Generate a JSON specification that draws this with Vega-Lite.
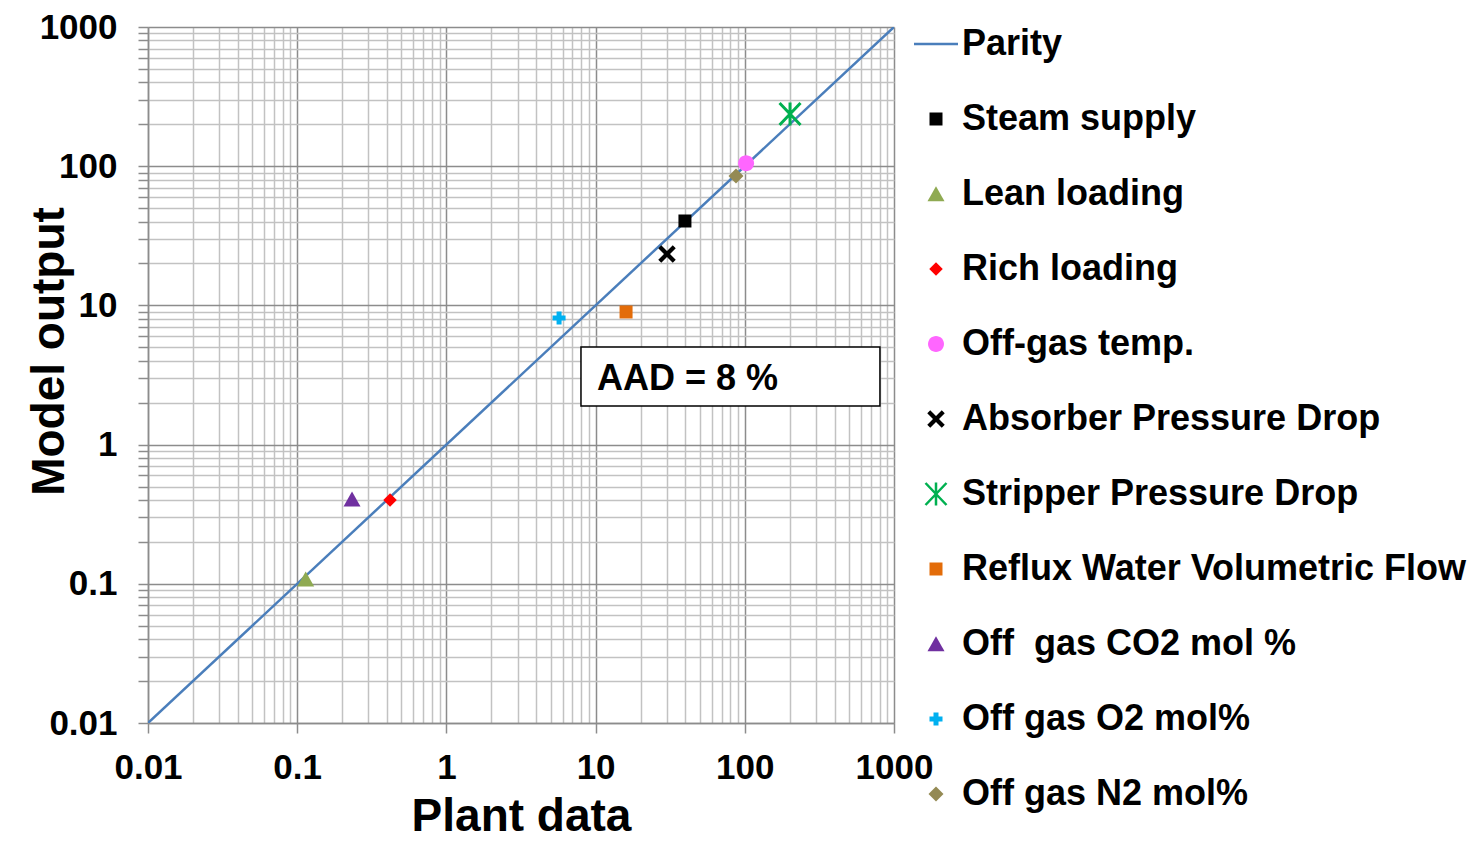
{
  "$schema": "https://vega.github.io/schema/vega-lite/v6.json",
  "autosize": "none",
  "width": 746,
  "height": 696,
  "padding": {"left": 148, "top": 27, "right": 584, "bottom": 129},
  "background": "white",
  "config": {
    "view": {"stroke": null},
    "legend": {
      "orient": "none",
      "legendX": 770,
      "legendY": -1,
      "padding": 0,
      "labelFont": "Liberation Sans",
      "labelFontSize": 36,
      "labelFontWeight": "bold",
      "labelColor": "black",
      "labelLimit": 700,
      "rowPadding": 39,
      "labelOffset": 8,
      "symbolSize": 100,
      "symbolStrokeWidth": 2.5
    }
  },
  "datasets": {
    "parity": [
      {"x": 0.01, "y": 0.01},
      {"x": 1000, "y": 1000}
    ],
    "points": [
      {"series": "Steam supply", "x": 39.7, "y": 40.4},
      {"series": "Lean loading", "x": 0.114, "y": 0.108},
      {"series": "Rich loading", "x": 0.419, "y": 0.40},
      {"series": "Off-gas temp.", "x": 102, "y": 105},
      {"series": "Absorber Pressure Drop", "x": 30.1, "y": 23.4},
      {"series": "Stripper Pressure Drop", "x": 201, "y": 237},
      {"series": "Reflux Water Volumetric Flow", "x": 16.0, "y": 8.97},
      {"series": "Off\u00a0 gas CO2 mol %", "x": 0.233, "y": 0.405},
      {"series": "Off gas O2 mol%", "x": 5.69, "y": 8.12},
      {"series": "Off gas N2 mol%", "x": 87.3, "y": 85.1}
    ],
    "box": [
      {"x": 7.98, "x2": 805, "y": 5.02, "y2": 1.89}
    ],
    "note": [
      {"x": 10.2, "y": 2.47, "label": "AAD = 8 %"}
    ]
  },
  "encoding": {
    "x": {
      "field": "x",
      "type": "quantitative",
      "scale": {"type": "log", "domain": [0.01, 1000], "nice": false},
      "axis": {
        "values": [0.01, 0.02, 0.03, 0.04, 0.05, 0.06, 0.07, 0.08, 0.09, 0.1, 0.2, 0.3, 0.4, 0.5, 0.6, 0.7, 0.8, 0.9, 1, 2, 3, 4, 5, 6, 7, 8, 9, 10, 20, 30, 40, 50, 60, 70, 80, 90, 100, 200, 300, 400, 500, 600, 700, 800, 900, 1000],
        "labelExpr": "indexof([0.01,0.1,1,10,100,1000], datum.value) >= 0 ? format(datum.value, '~g') : ''",
        "grid": true,
        "gridColor": {"condition": {"test": "indexof([0.01,0.1,1,10,100,1000], datum.value) >= 0", "value": "#8c8c8c"}, "value": "#c2c2c2"},
        "gridWidth": 1.5,
        "tickOpacity": {"condition": {"test": "indexof([0.01,0.1,1,10,100,1000], datum.value) >= 0", "value": 1}, "value": 0},
        "tickSize": 10,
        "tickColor": "#8c8c8c",
        "tickWidth": 1.5,
        "domainColor": "#8c8c8c",
        "domainWidth": 1.5,
        "labelFont": "Liberation Sans",
        "labelFontSize": 35,
        "labelFontWeight": "bold",
        "labelColor": "black",
        "labelPadding": 17,
        "labelOverlap": false,
        "labelFlush": false,
        "title": "Plant data",
        "titleFont": "Liberation Sans",
        "titleFontSize": 46,
        "titleFontWeight": "bold",
        "titleColor": "black",
        "titleY": 107,
        "titleBaseline": "alphabetic"
      }
    },
    "y": {
      "field": "y",
      "type": "quantitative",
      "scale": {"type": "log", "domain": [0.01, 1000], "nice": false},
      "axis": {
        "values": [0.01, 0.02, 0.03, 0.04, 0.05, 0.06, 0.07, 0.08, 0.09, 0.1, 0.2, 0.3, 0.4, 0.5, 0.6, 0.7, 0.8, 0.9, 1, 2, 3, 4, 5, 6, 7, 8, 9, 10, 20, 30, 40, 50, 60, 70, 80, 90, 100, 200, 300, 400, 500, 600, 700, 800, 900, 1000],
        "labelExpr": "indexof([0.01,0.1,1,10,100,1000], datum.value) >= 0 ? format(datum.value, '~g') : ''",
        "grid": true,
        "gridColor": {"condition": {"test": "indexof([0.01,0.1,1,10,100,1000], datum.value) >= 0", "value": "#8c8c8c"}, "value": "#c2c2c2"},
        "gridWidth": 1.5,
        "tickSize": 10,
        "tickColor": "#8c8c8c",
        "tickWidth": 1.5,
        "domainColor": "#8c8c8c",
        "domainWidth": 1.5,
        "labelFont": "Liberation Sans",
        "labelFontSize": 35,
        "labelFontWeight": "bold",
        "labelColor": "black",
        "labelPadding": 21,
        "labelOverlap": false,
        "labelFlush": false,
        "title": "Model output",
        "titleFont": "Liberation Sans",
        "titleFontSize": 46,
        "titleFontWeight": "bold",
        "titleColor": "black",
        "titleX": -85,
        "titleY": 324,
        "titleAngle": -90,
        "titleAlign": "center",
        "titleBaseline": "alphabetic"
      }
    }
  },
  "layer": [
    {
      "data": {"name": "box"},
      "mark": {"type": "rect", "fill": "white", "stroke": "black", "strokeWidth": 1.5},
      "encoding": {
        "x2": {"field": "x2"},
        "y2": {"field": "y2"}
      }
    },
    {
      "data": {"name": "note"},
      "mark": {"type": "text", "align": "left", "baseline": "alphabetic", "font": "Liberation Sans", "fontSize": 36, "fontWeight": "bold", "color": "black"},
      "encoding": {
        "text": {"field": "label"}
      }
    },
    {
      "data": {"name": "parity"},
      "mark": {"type": "line", "color": "#4A7EBB", "strokeWidth": 2.5, "clip": true},
      "encoding": {}
    },
    {
      "data": {"name": "points"},
      "mark": {"type": "point", "size": 100, "strokeWidth": 3, "opacity": 1},
      "encoding": {
        "shape": {
          "field": "series",
          "type": "nominal",
          "scale": {
            "domain": ["Parity", "Steam supply", "Lean loading", "Rich loading", "Off-gas temp.", "Absorber Pressure Drop", "Stripper Pressure Drop", "Reflux Water Volumetric Flow", "Off\u00a0 gas CO2 mol %", "Off gas O2 mol%", "Off gas N2 mol%"],
            "range": [
              "M-4.4,0L4.4,0",
              "M-1.3,-1.3L1.3,-1.3L1.3,1.3L-1.3,1.3Z",
              "M0,-1.55L1.7,1.45L-1.7,1.45Z",
              "M0,-1.35L1.35,0L0,1.35L-1.35,0Z",
              "M-1.6,0A1.6,1.6 0 1,1 1.6,0A1.6,1.6 0 1,1 -1.6,0Z",
              "M-1.75,-1.15L-1.15,-1.75L0,-0.6L1.15,-1.75L1.75,-1.15L0.6,0L1.75,1.15L1.15,1.75L0,0.6L-1.15,1.75L-1.75,1.15L-0.6,0Z",
              "M-2.1,-2.2L2.1,2.2M-2.1,2.2L2.1,-2.2M0,-2.3L0,2.3",
              "M-1.3,-1.3L1.3,-1.3L1.3,1.3L-1.3,1.3Z",
              "M0,-1.55L1.7,1.45L-1.7,1.45Z",
              "M-1.3,-0.5L-0.5,-0.5L-0.5,-1.3L0.5,-1.3L0.5,-0.5L1.3,-0.5L1.3,0.5L0.5,0.5L0.5,1.3L-0.5,1.3L-0.5,0.5L-1.3,0.5Z",
              "M0,-1.5L1.5,0L0,1.5L-1.5,0Z"
            ]
          },
          "legend": {"title": null}
        },
        "fill": {
          "field": "series",
          "type": "nominal",
          "scale": {
            "domain": ["Parity", "Steam supply", "Lean loading", "Rich loading", "Off-gas temp.", "Absorber Pressure Drop", "Stripper Pressure Drop", "Reflux Water Volumetric Flow", "Off\u00a0 gas CO2 mol %", "Off gas O2 mol%", "Off gas N2 mol%"],
            "range": ["transparent", "#000000", "#8FAA52", "#FF0000", "#FF66FF", "#000000", "transparent", "#E36C09", "#7030A0", "#00B0F0", "#948A54"]
          },
          "legend": {"title": null}
        },
        "stroke": {
          "field": "series",
          "type": "nominal",
          "scale": {
            "domain": ["Parity", "Steam supply", "Lean loading", "Rich loading", "Off-gas temp.", "Absorber Pressure Drop", "Stripper Pressure Drop", "Reflux Water Volumetric Flow", "Off\u00a0 gas CO2 mol %", "Off gas O2 mol%", "Off gas N2 mol%"],
            "range": ["#4A7EBB", "transparent", "transparent", "transparent", "transparent", "transparent", "#00B050", "transparent", "transparent", "transparent", "transparent"]
          },
          "legend": {"title": null}
        }
      }
    }
  ]
}
